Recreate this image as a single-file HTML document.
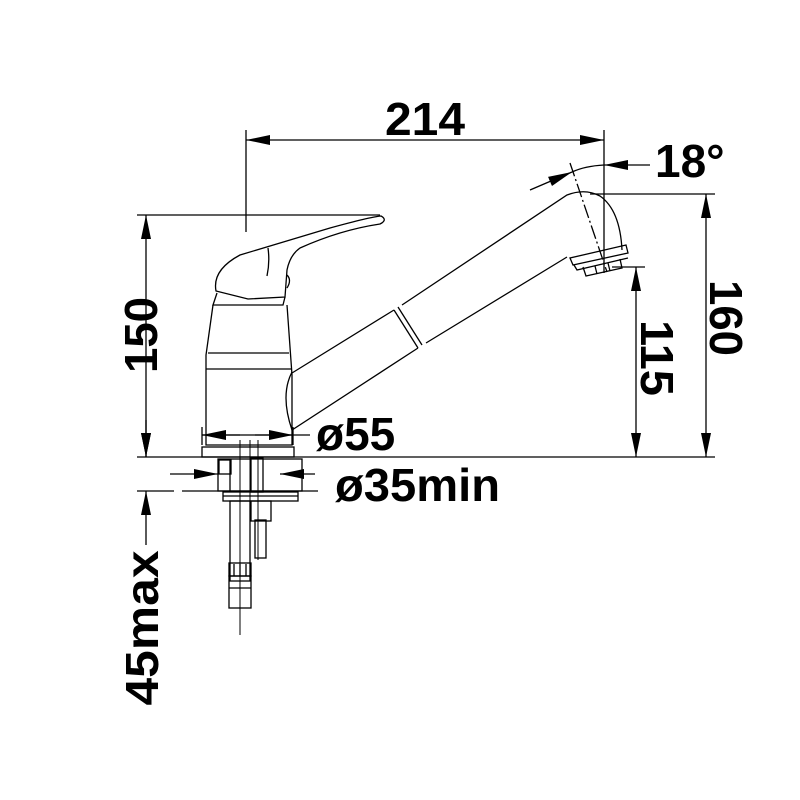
<!DOCTYPE html>
<html><head><style>body{margin:0;background:#fff}svg{display:block}</style></head><body>
<svg width="800" height="800" viewBox="0 0 800 800" xmlns="http://www.w3.org/2000/svg">
<defs>
<marker id="a" viewBox="0 0 24 10" refX="24" refY="5" markerWidth="24" markerHeight="10" markerUnits="userSpaceOnUse" orient="auto-start-reverse"><path d="M0,0L24,5L0,10z" fill="#000"/></marker>
</defs>
<g stroke="#000" stroke-width="1.3" fill="none">
<line x1="246" y1="130" x2="246" y2="232"/>
<line x1="604" y1="130" x2="604" y2="273"/>
<line x1="246" y1="140" x2="604" y2="140" marker-start="url(#a)" marker-end="url(#a)"/>
<line x1="650" y1="165" x2="604" y2="165" marker-end="url(#a)"/>
<path d="M604,165 Q585,166 572,172"/>
<line x1="530" y1="190" x2="572" y2="172" marker-end="url(#a)"/>
<line x1="570" y1="163" x2="607" y2="272" stroke-dasharray="14,3,2,3"/>
<line x1="590" y1="194" x2="715" y2="194"/>
<line x1="706" y1="194" x2="706" y2="457" marker-start="url(#a)" marker-end="url(#a)"/>
<line x1="612" y1="267" x2="645" y2="267"/>
<line x1="636" y1="267" x2="636" y2="457" marker-start="url(#a)" marker-end="url(#a)"/>
<line x1="137" y1="457" x2="715" y2="457"/>
<line x1="137" y1="215" x2="380" y2="215"/>
<line x1="146" y1="215" x2="146" y2="457" marker-start="url(#a)" marker-end="url(#a)"/>
<line x1="146" y1="420" x2="146" y2="457" marker-end="url(#a)"/>
<line x1="146" y1="545" x2="146" y2="491" marker-end="url(#a)"/>
<line x1="137" y1="491" x2="174" y2="491"/>
<line x1="182" y1="491" x2="318" y2="491"/>
<line x1="202" y1="427" x2="202" y2="445"/>
<line x1="293" y1="427" x2="293" y2="445"/>
<line x1="202" y1="435" x2="310" y2="435"/>
<line x1="202" y1="435" x2="240" y2="435" marker-start="url(#a)"/>
<line x1="255" y1="435" x2="293" y2="435" marker-end="url(#a)"/>
<line x1="170" y1="474" x2="218" y2="474" marker-end="url(#a)"/>
<line x1="315" y1="474" x2="280" y2="474" marker-end="url(#a)"/>
<path d="M216,291 Q212,270 240,255 L330,228 Q370,217 381,216 Q388,220 380,224 Q340,230 300,248 Q290,255 287,270 L285,297 L248,299 Z"/>
<path d="M268,248 Q270,262 267,276" />
<path d="M287,275 Q292,280 287,288"/>
<path d="M217,293 L213,305 L283,305 L285,297"/>
<path d="M213,305 L206,355 L206,445 L292,445 L292,375 L287,305"/>
<line x1="208" y1="353" x2="289" y2="353"/>
<line x1="206" y1="369" x2="291" y2="369"/>
<rect x="202" y="447" width="92" height="10"/>
<path d="M292,373 L394,310 M402,305 L567,195 Q585,188 600,196 Q620,210 622,250"/>
<path d="M292,372 Q280,395 292,430 L418,348 M426,343 L567,257"/>
<line x1="394" y1="310" x2="418" y2="348"/>
<line x1="398" y1="307" x2="422" y2="345"/>
<path d="M570,258 L573,265 L628,253 L626,245 Z"/>
<path d="M574,265 L577,270 L628,258"/>
<path d="M583,267 L586,276 L622,268 L620,259"/>
<line x1="595" y1="266" x2="597" y2="274"/><line x1="608" y1="263" x2="610" y2="271"/>
<line x1="240" y1="440" x2="240" y2="635" stroke-width="1"/>
<line x1="250" y1="440" x2="250" y2="560" stroke-width="1"/>
<line x1="258" y1="440" x2="258" y2="560" stroke-width="1"/>
<rect x="218" y="459" width="84" height="32"/>
<rect x="219" y="460" width="12" height="14"/>
<line x1="230" y1="460" x2="230" y2="491"/>
<rect x="251" y="458" width="12" height="34"/>
<rect x="223" y="492" width="75" height="9"/>
<line x1="223" y1="496" x2="298" y2="496"/>
<rect x="230" y="501" width="20" height="80"/>
<rect x="251" y="501" width="20" height="20"/>
<rect x="255" y="520" width="11" height="38"/>
<rect x="229" y="563" width="22" height="13"/>
<line x1="234" y1="564" x2="234" y2="576"/><line x1="240" y1="564" x2="240" y2="576"/><line x1="246" y1="564" x2="246" y2="576"/>
<rect x="229" y="576" width="22" height="32"/>
<line x1="229" y1="588" x2="251" y2="588"/>
</g>
<g font-family="Liberation Sans, sans-serif" font-weight="bold" font-size="46" fill="#000">
<text x="425" y="135" text-anchor="middle" textLength="80" lengthAdjust="spacingAndGlyphs">214</text>
<text x="655" y="177">18°</text>
<text x="316" y="450">ø55</text>
<text x="335" y="501" textLength="165" lengthAdjust="spacingAndGlyphs">ø35min</text>
<text transform="translate(710,318) rotate(90)" text-anchor="middle" textLength="76" lengthAdjust="spacingAndGlyphs">160</text>
<text transform="translate(641,358) rotate(90)" text-anchor="middle" textLength="76" lengthAdjust="spacingAndGlyphs">115</text>
<text transform="translate(157,335) rotate(-90)" text-anchor="middle" textLength="76" lengthAdjust="spacingAndGlyphs">150</text>
<text transform="translate(158,628) rotate(-90)" text-anchor="middle" textLength="155" lengthAdjust="spacingAndGlyphs">45max</text>
</g>
</svg>
</body></html>
